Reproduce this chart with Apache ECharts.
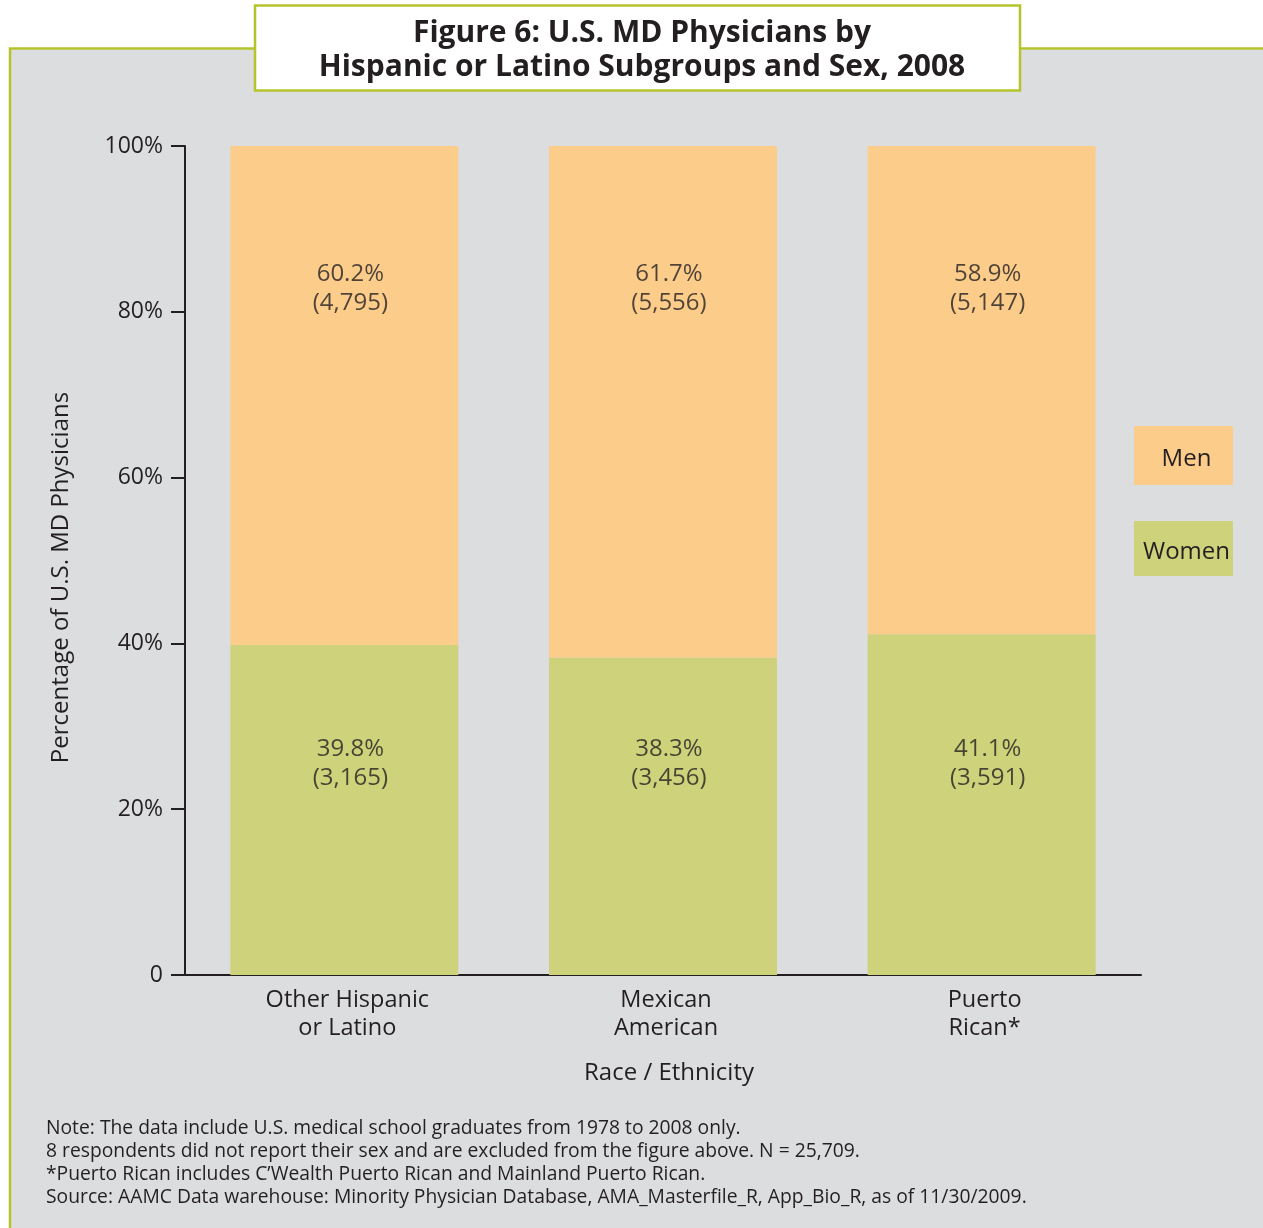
<!DOCTYPE html>
<html>
<head>
<meta charset="utf-8">
<script src="https://cdn.jsdelivr.net/npm/echarts@6/dist/echarts.min.js"></script>
<style>
html,body{margin:0;padding:0;background:#ffffff;}
#chart{width:1263px;height:1228px;}
</style>
</head>
<body>
<div id="chart"></div>
<script>
var categories = ['Other Hispanic\nor Latino', 'Mexican\nAmerican', 'Puerto\nRican*'];
var womenPct = [39.8, 38.3, 41.1];
var menPct = [60.2, 61.7, 58.9];
var womenCount = ['3,165', '3,456', '3,591'];
var menCount = ['4,795', '5,556', '5,147'];
var yTicks = [0, 20, 40, 60, 80, 100];
var notes = [
  'Note: The data include U.S. medical school graduates from 1978 to 2008 only.',
  '8 respondents did not report their sex and are excluded from the figure above. N = 25,709.',
  '*Puerto Rican includes C\u2019Wealth Puerto Rican and Mainland Puerto Rican.',
  'Source: AAMC Data warehouse: Minority Physician Database, AMA_Masterfile_R, App_Bio_R, as of 11/30/2009.'
];

var FONT = '"Open Sans", "Noto Sans", sans-serif';
var TXT = '#231f20';
var MEN_COLOR = '#fccc8b';
var WOMEN_COLOR = '#cdd27b';
var MEN_LABEL_Y = 82.9;
var WOMEN_LABEL_Y = 25.5;

var chart = echarts.init(document.getElementById('chart'), null, {renderer: 'canvas'});

var option = {
  backgroundColor: '#ffffff',
  animation: false,
  textStyle: {fontFamily: FONT, color: TXT},
  graphic: [
    {type: 'rect', z: -10, shape: {x: 10, y: 48.5, width: 1270, height: 1200},
     style: {fill: '#dcdddf', stroke: '#b5c42c', lineWidth: 2.5}},
    {type: 'rect', z: 5, shape: {x: 255, y: 5.5, width: 765, height: 85},
     style: {fill: '#ffffff', stroke: '#b5c42c', lineWidth: 2.5}},
    {type: 'text', z: 6, left: 46, top: 1117,
     style: {text: notes.join('\n'), font: '19.3px ' + FONT, fill: TXT, lineHeight: 23}}
  ],
  title: {
    text: 'Figure 6: U.S. MD Physicians by\nHispanic or Latino Subgroups and Sex, 2008',
    left: 637, top: 11, textAlign: 'center', z: 10,
    textStyle: {fontFamily: FONT, fontWeight: 'bold', fontSize: 30, lineHeight: 34, color: TXT}
  },
  legend: {
    orient: 'vertical', left: 1129, top: 426, padding: 0, itemGap: 36,
    itemWidth: 0, itemHeight: 0, icon: 'rect', selectedMode: false,
    data: ['Men', 'Women'],
    formatter: function (name) { return name === 'Men' ? '{m|Men}' : '{w|Women}'; },
    textStyle: {
      fontFamily: FONT, fontSize: 24, color: TXT,
      rich: {
        m: {backgroundColor: MEN_COLOR, width: 93, height: 51, lineHeight: 51, padding: [8, 0, 0, 6], align: 'center', fontSize: 24, color: TXT, fontFamily: FONT},
        w: {backgroundColor: WOMEN_COLOR, width: 93, height: 47, lineHeight: 47, padding: [8, 0, 0, 6], align: 'center', fontSize: 24, color: TXT, fontFamily: FONT}
      }
    }
  },
  grid: {left: 185, right: 122, top: 146, bottom: 253, containLabel: false},
  xAxis: {
    type: 'category', data: categories,
    name: 'Race / Ethnicity', nameLocation: 'middle', nameGap: 86,
    nameTextStyle: {fontSize: 24, color: TXT, fontFamily: FONT, padding: [0, 0, 0, 12]},
    axisLine: {lineStyle: {color: TXT, width: 2}},
    axisTick: {show: false},
    axisLabel: {fontSize: 23.5, lineHeight: 28, color: TXT, margin: 11, fontFamily: FONT, padding: [0, 0, 0, 6]}
  },
  yAxis: {
    type: 'value', min: 0, max: 100, interval: 20,
    name: 'Percentage of U.S. MD Physicians', nameLocation: 'middle', nameGap: 112,
    nameTextStyle: {fontSize: 24, color: TXT, fontFamily: FONT, padding: [0, 0, 0, -34]},
    axisLine: {show: true, lineStyle: {color: TXT, width: 2}},
    axisTick: {show: true, length: 14, lineStyle: {color: TXT, width: 2}},
    splitLine: {show: false},
    axisLabel: {fontSize: 23, color: TXT, margin: 22, fontFamily: FONT,
      formatter: function (v) { return yTicks.indexOf(v) >= 0 ? (v === 0 ? '0' : v + '%') : ''; }}
  },
  series: [
    {name: 'Women', type: 'bar', stack: 'all', barWidth: 228, itemStyle: {color: WOMEN_COLOR},
     data: womenPct},
    {name: 'Men', type: 'bar', stack: 'all', barWidth: 228, itemStyle: {color: MEN_COLOR},
     data: menPct},
    {type: 'scatter', symbolSize: 0, silent: true, z: 10,
     data: categories.map(function (c, i) { return [i, MEN_LABEL_Y]; }),
     label: {show: true, position: 'inside', offset: [6, 1], fontSize: 24, lineHeight: 29, color: TXT, fontFamily: FONT,
       formatter: function (p) { return menPct[p.dataIndex].toFixed(1) + '%\n(' + menCount[p.dataIndex] + ')'; }}},
    {type: 'scatter', symbolSize: 0, silent: true, z: 10,
     data: categories.map(function (c, i) { return [i, WOMEN_LABEL_Y]; }),
     label: {show: true, position: 'inside', offset: [6, 0], fontSize: 24, lineHeight: 29, color: TXT, fontFamily: FONT,
       formatter: function (p) { return womenPct[p.dataIndex].toFixed(1) + '%\n(' + womenCount[p.dataIndex] + ')'; }}}
  ]
};
chart.setOption(option);
</script>
</body>
</html>
